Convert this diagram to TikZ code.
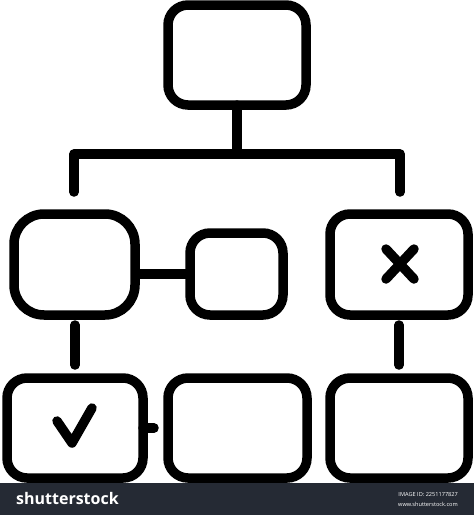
\documentclass[tikz,border=0pt]{standalone}
\usepackage{fontspec}
\setsansfont{Open Sans}
\begin{document}
\begin{tikzpicture}[x=1pt,y=-1pt,
  box/.style={draw=black,line width=9.5pt,rounded corners=#1,inner sep=0pt,outer sep=0pt},
  box/.default=20pt,
  link/.style={draw=black,line width=9.5pt,line cap=round,line join=round}]
\useasboundingbox (0,0) rectangle (474,515);
\fill[white] (0,0) rectangle (474,515);
% nodes
\node[box,minimum width=138pt,minimum height=100pt] (top) at (237,55) {};
\node[box=30pt,minimum width=121pt,minimum height=101pt] (L2) at (74.5,264.5) {};
\node[box,minimum width=93pt,minimum height=82pt] (M2) at (236.5,274) {};
\node[box,minimum width=138pt,minimum height=101pt] (R2) at (399,264.5) {};
\node[box,minimum width=136pt,minimum height=100pt] (L3) at (75,428) {};
\node[box,minimum width=139pt,minimum height=100pt] (M3) at (237.5,428) {};
\node[box,minimum width=138pt,minimum height=100pt] (R3) at (399,428) {};
% connectors
\coordinate (bar) at (237,154);
\coordinate (barL) at (74,154);
\coordinate (barR) at (400,154);
\coordinate (dropL) at (74,192);
\coordinate (dropR) at (400,192);
\draw[link] (top.south) -- (bar);
\draw[link] (dropL) -- (barL) -- (barR) -- (dropR);
\draw[link,line cap=butt] (M2.west -| L2.east) -- (M2.west);
\coordinate (vL1) at (75,325);
\coordinate (vL2) at (75,365);
\coordinate (vR1) at (399,325);
\coordinate (vR2) at (399,365);
\draw[link] (vL1) -- (vL2);
\draw[link] (vR1) -- (vR2);
\coordinate (stub) at (154,428);
\draw[link] (L3.east) -- (stub);
% marks
\coordinate (x1) at (386,249);
\coordinate (x2) at (414,279);
\coordinate (x3) at (414,249);
\coordinate (x4) at (386,279);
\draw[link] (x1) -- (x2);
\draw[link] (x3) -- (x4);
\coordinate (c1) at (57,421);
\coordinate (c2) at (72,443);
\coordinate (c3) at (92,408);
\draw[link] (c1) -- (c2) -- (c3);
% banner
\fill[fill={rgb,255:red,37;green,42;blue,52}] (0,483) rectangle (474,515);
\node[anchor=west,text=white,inner sep=0pt,font=\sffamily\bfseries\fontsize{16}{16}\selectfont] (brand) at (16,498) {shutterstock};
\node[anchor=east,text=white,inner sep=0pt,font=\sffamily\fontsize{5.6}{5.6}\selectfont] (imgid) at (458,495) {IMAGE ID: 2251177827};
\node[anchor=east,text=white,inner sep=0pt,font=\sffamily\fontsize{5.6}{5.6}\selectfont] (www) at (458,504) {www.shutterstock.com};
\end{tikzpicture}
\end{document}
